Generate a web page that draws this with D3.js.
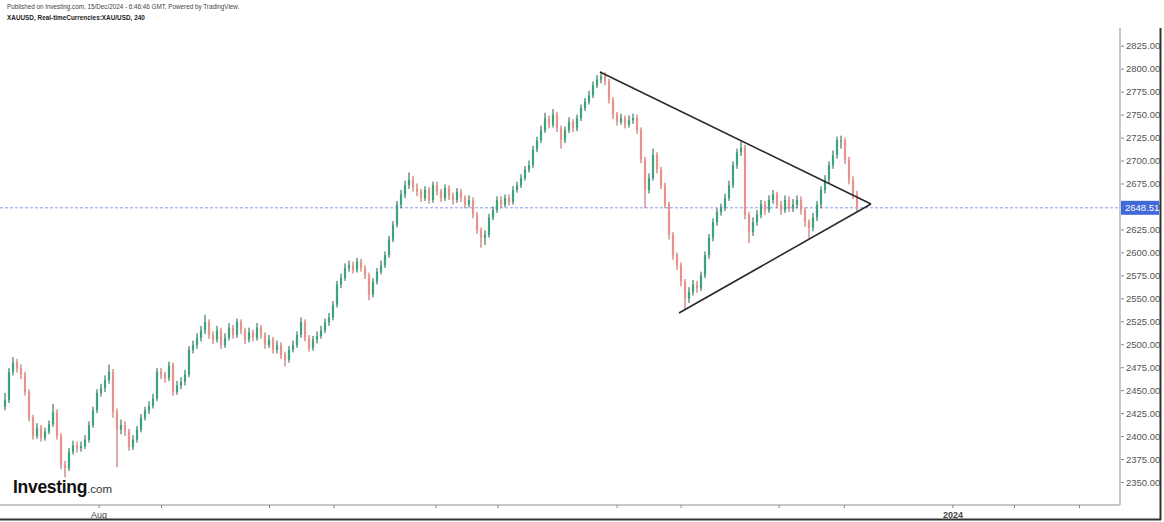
<!DOCTYPE html>
<html><head><meta charset="utf-8">
<script src="https://cdn.jsdelivr.net/npm/d3@7"></script>
<style>html,body{margin:0;padding:0;background:#fff;}svg{display:block;font-family:"Liberation Sans",Arial,sans-serif;}</style>
</head><body><svg id="c" width="1164" height="522"></svg>
<script>
// ---- data (4h candles, XAU/USD) ----
const opens = [2432,2439,2470,2480,2474,2467,2448,2420,2400,2409,2398,2405,2413,2426,2400,2369,2365,2383,2390,2387,2389,2396,2412,2428,2447,2452,2461,2470,2426,2407,2412,2405,2388,2396,2407,2420,2428,2433,2441,2470,2467,2463,2477,2448,2455,2459,2467,2494,2499,2507,2515,2524,2510,2505,2515,2499,2507,2518,2510,2524,2515,2505,2513,2507,2518,2510,2499,2505,2494,2499,2488,2483,2494,2499,2510,2524,2507,2496,2505,2509,2515,2524,2529,2543,2565,2572,2583,2586,2581,2590,2583,2575,2554,2568,2579,2586,2597,2614,2630,2652,2663,2673,2679,2670,2666,2659,2668,2657,2673,2666,2659,2670,2661,2657,2666,2659,2652,2657,2641,2624,2616,2619,2638,2646,2657,2652,2659,2655,2668,2673,2681,2690,2695,2712,2722,2733,2746,2739,2750,2735,2722,2733,2742,2735,2746,2757,2764,2771,2782,2788,2792,2786,2766,2750,2742,2746,2739,2744,2746,2733,2701,2668,2681,2706,2690,2673,2652,2619,2597,2586,2568,2550,2557,2565,2561,2575,2597,2616,2633,2644,2648,2659,2673,2695,2709,2714,2641,2622,2633,2641,2652,2646,2657,2663,2652,2646,2657,2648,2652,2657,2646,2633,2627,2638,2652,2668,2679,2695,2706,2722,2722,2701,2679,2663];
const highs = [2447,2474,2486,2484,2478,2470,2451,2423,2414,2412,2409,2417,2435,2429,2403,2373,2387,2395,2394,2394,2401,2416,2432,2451,2457,2466,2478,2473,2430,2418,2416,2408,2401,2411,2424,2432,2438,2446,2474,2474,2470,2481,2480,2460,2464,2472,2498,2504,2512,2520,2532,2527,2514,2520,2518,2512,2523,2521,2528,2527,2518,2518,2516,2523,2521,2513,2510,2508,2504,2502,2492,2498,2504,2514,2529,2527,2510,2509,2514,2520,2528,2534,2547,2569,2577,2588,2591,2590,2594,2593,2586,2578,2572,2583,2591,2601,2618,2634,2656,2668,2678,2687,2683,2675,2669,2672,2671,2677,2677,2669,2674,2673,2665,2670,2669,2662,2662,2660,2644,2627,2624,2642,2650,2661,2661,2663,2663,2672,2677,2685,2694,2700,2716,2726,2738,2752,2749,2756,2753,2738,2737,2747,2745,2750,2761,2768,2776,2786,2793,2797,2796,2789,2769,2753,2751,2749,2749,2751,2750,2736,2704,2686,2713,2709,2693,2676,2655,2622,2600,2589,2571,2562,2570,2569,2579,2601,2620,2637,2648,2653,2664,2678,2699,2713,2721,2717,2644,2638,2646,2657,2656,2662,2668,2666,2656,2662,2661,2658,2662,2661,2649,2636,2643,2656,2672,2684,2699,2711,2726,2727,2725,2704,2683,2667];
const lows = [2428,2436,2466,2469,2462,2444,2416,2396,2397,2394,2395,2402,2410,2396,2364,2355,2362,2380,2382,2383,2386,2393,2409,2425,2443,2448,2457,2420,2366,2402,2400,2384,2385,2393,2404,2417,2424,2430,2438,2462,2458,2460,2444,2445,2451,2455,2464,2490,2495,2503,2511,2506,2500,2502,2495,2496,2504,2506,2507,2511,2500,2502,2503,2504,2506,2495,2496,2490,2490,2484,2476,2480,2491,2496,2507,2503,2492,2493,2501,2506,2512,2520,2526,2540,2561,2569,2579,2577,2578,2579,2571,2548,2551,2565,2576,2583,2594,2611,2627,2648,2659,2669,2666,2661,2655,2656,2653,2654,2662,2655,2656,2657,2652,2654,2655,2648,2649,2637,2620,2605,2608,2616,2635,2643,2648,2649,2651,2652,2665,2670,2678,2687,2692,2709,2719,2730,2735,2736,2731,2713,2719,2730,2731,2732,2743,2754,2761,2768,2779,2784,2782,2762,2745,2738,2739,2735,2736,2740,2729,2697,2648,2664,2678,2686,2669,2648,2614,2592,2581,2563,2537,2545,2553,2556,2558,2572,2593,2612,2629,2640,2645,2656,2670,2691,2705,2636,2610,2618,2629,2637,2641,2643,2653,2648,2641,2643,2644,2644,2648,2641,2628,2615,2623,2634,2648,2664,2675,2691,2702,2713,2696,2674,2658,2645];
const closes = [2439,2470,2480,2474,2467,2448,2420,2400,2409,2398,2405,2413,2426,2400,2369,2365,2383,2390,2387,2389,2396,2412,2428,2447,2452,2461,2470,2426,2407,2412,2405,2388,2396,2407,2420,2428,2433,2441,2470,2467,2463,2477,2448,2455,2459,2467,2494,2499,2507,2515,2524,2510,2505,2515,2499,2507,2518,2510,2524,2515,2505,2513,2507,2518,2510,2499,2505,2494,2499,2488,2483,2494,2499,2510,2524,2507,2496,2505,2509,2515,2524,2529,2543,2565,2572,2583,2586,2581,2590,2583,2575,2554,2568,2579,2586,2597,2614,2630,2652,2663,2673,2679,2670,2666,2659,2668,2657,2673,2666,2659,2670,2661,2657,2666,2659,2652,2657,2641,2624,2616,2619,2638,2646,2657,2652,2659,2655,2668,2673,2681,2690,2695,2712,2722,2733,2746,2739,2750,2735,2722,2733,2742,2735,2746,2757,2764,2771,2782,2788,2792,2786,2766,2750,2742,2746,2739,2744,2746,2733,2701,2668,2681,2706,2690,2673,2652,2619,2597,2586,2568,2550,2557,2565,2561,2575,2597,2616,2633,2644,2648,2659,2673,2695,2709,2714,2641,2622,2633,2641,2652,2646,2657,2663,2652,2646,2657,2648,2652,2657,2646,2633,2627,2638,2652,2668,2679,2695,2706,2722,2722,2701,2679,2663,2648.51];
const lastPrice = 2648.51;
const priceTicks = [2350,2375,2400,2425,2450,2475,2500,2525,2550,2575,2600,2625,2650,2675,2700,2725,2750,2775,2800,2825];
// time ticks, in candle-index units (trading-time axis)
const timeTickIdx = [23.4,39,66,82.15,107.65,123.1,152.9,168.9,193.4,209.7,236.85,252.25,268.5];
const timeTickLabels = ["Aug","","","","","","","","","","2024","",""];
const timeTickBold = [false,false,false,false,false,false,false,false,false,false,true,false,false];
// triangle trendlines: [candle index, price]
const upperLine = [[148.75,2796.4],[216.5,2652.7]];
const lowerLine = [[168.5,2534],[216.5,2652.7]];
const header1 = "Published on Investing.com, 15/Dec/2024 - 6:46:46 GMT, Powered by TradingView.";
const header2 = "XAUUSD, Real-timeCurrencies:XAU/USD, 240";

// ---- layout ----
const plotL = 0, plotR = 1120, plotT = 28, plotB = 505;
const svg = d3.select("#c");
const x = d3.scaleLinear().domain([-1.25, 278.75]).range([plotL, plotR]);
const y = d3.scaleLinear().domain([2350, 2825]).range([482, 45.7]);

svg.append("defs").append("clipPath").attr("id","clip")
  .append("rect").attr("x",plotL).attr("y",plotT).attr("width",plotR-plotL).attr("height",plotB-plotT);

// header
svg.append("text").attr("x",7).attr("y",9).attr("font-size",6.3).attr("fill","#444").text(header1);
svg.append("text").attr("x",7).attr("y",20).attr("font-size",6.4).attr("font-weight","bold").attr("fill","#222").text(header2);

const g = svg.append("g").attr("clip-path","url(#clip)");

// last price dotted line
g.append("line").attr("x1",plotL).attr("x2",plotR).attr("y1",y(lastPrice)).attr("y2",y(lastPrice))
  .attr("stroke","#8a9cf2").attr("stroke-width",1).attr("stroke-dasharray","3,2");

// candles
const data = closes.map((c,i)=>({i, o:opens[i], h:highs[i], l:lows[i], c}));
const up = d => d.c >= d.o;
const cg = g.append("g");
cg.selectAll("line.wick").data(data).join("line")
  .attr("x1",d=>x(d.i)).attr("x2",d=>x(d.i))
  .attr("y1",d=>y(d.h)).attr("y2",d=>y(d.l))
  .attr("stroke",d=>up(d)?"#1f5a41":"#b85d52").attr("stroke-width",1);
cg.selectAll("rect.body").data(data).join("rect")
  .attr("x",d=>x(d.i)-1.1).attr("width",2.2)
  .attr("y",d=>y(Math.max(d.o,d.c)))
  .attr("height",d=>Math.max(1, Math.abs(y(d.o)-y(d.c))))
  .attr("fill",d=>up(d)?"#3aa57a":"#e8928a");

// trendlines
const lineGen = d3.line().x(d=>x(d[0])).y(d=>y(d[1]));
[upperLine, lowerLine].forEach(L=>{
  g.append("path").attr("d",lineGen(L)).attr("fill","none").attr("stroke","#2a2a2a").attr("stroke-width",1.6);
});

// axes lines
svg.append("line").attr("x1",plotR).attr("x2",plotR).attr("y1",plotT).attr("y2",plotB).attr("stroke","#b5b5b5").attr("stroke-width",1.5);
svg.append("line").attr("x1",0).attr("x2",plotR).attr("y1",plotB).attr("y2",plotB).attr("stroke","#b5b5b5").attr("stroke-width",1.5);

// right axis via d3
const ya = d3.axisRight(y).tickValues(priceTicks).tickSize(3).tickPadding(2).tickFormat(d3.format(".2f"));
const yag = svg.append("g").attr("transform",`translate(${plotR+1},0)`).call(ya);
yag.select(".domain").remove();
yag.selectAll(".tick line").attr("stroke","#888");
yag.selectAll(".tick text").attr("font-size",9.5).attr("fill","#555").attr("font-family","Liberation Sans, Arial, sans-serif");

// last price label
const ly = y(lastPrice);
svg.append("rect").attr("x",plotR+1).attr("y",ly-7).attr("width",38).attr("height",14).attr("fill","#4169d8");
svg.append("text").attr("x",plotR+5).attr("y",ly+3.5).attr("font-size",9.5).attr("fill","#fff").text(d3.format(".2f")(lastPrice));

// bottom axis via d3
const xa = d3.axisBottom(x).tickValues(timeTickIdx).tickSize(3).tickPadding(4).tickFormat((d,k)=>timeTickLabels[k]);
const xag = svg.append("g").attr("transform",`translate(0,${plotB})`).call(xa);
xag.select(".domain").remove();
xag.selectAll(".tick line").attr("stroke","#888");
xag.selectAll(".tick text").attr("font-size",9).attr("fill","#444")
  .attr("font-weight",(d,k)=>timeTickBold[k]?"bold":"normal").attr("font-family","Liberation Sans, Arial, sans-serif");

// outer frame
svg.append("line").attr("x1",0).attr("x2",1161).attr("y1",519.5).attr("y2",519.5).attr("stroke","#333").attr("stroke-width",2);
svg.append("line").attr("x1",1160.5).attr("x2",1160.5).attr("y1",plotT).attr("y2",520).attr("stroke","#333").attr("stroke-width",2);

// logo
const logo = svg.append("text").attr("x",13).attr("y",493).attr("fill","#111");
logo.append("tspan").attr("font-size",17.5).attr("font-weight","bold").attr("letter-spacing",-0.3).text("Investing");
logo.append("tspan").attr("font-size",11.5).attr("fill","#333").text(".com");
</script></body></html>
